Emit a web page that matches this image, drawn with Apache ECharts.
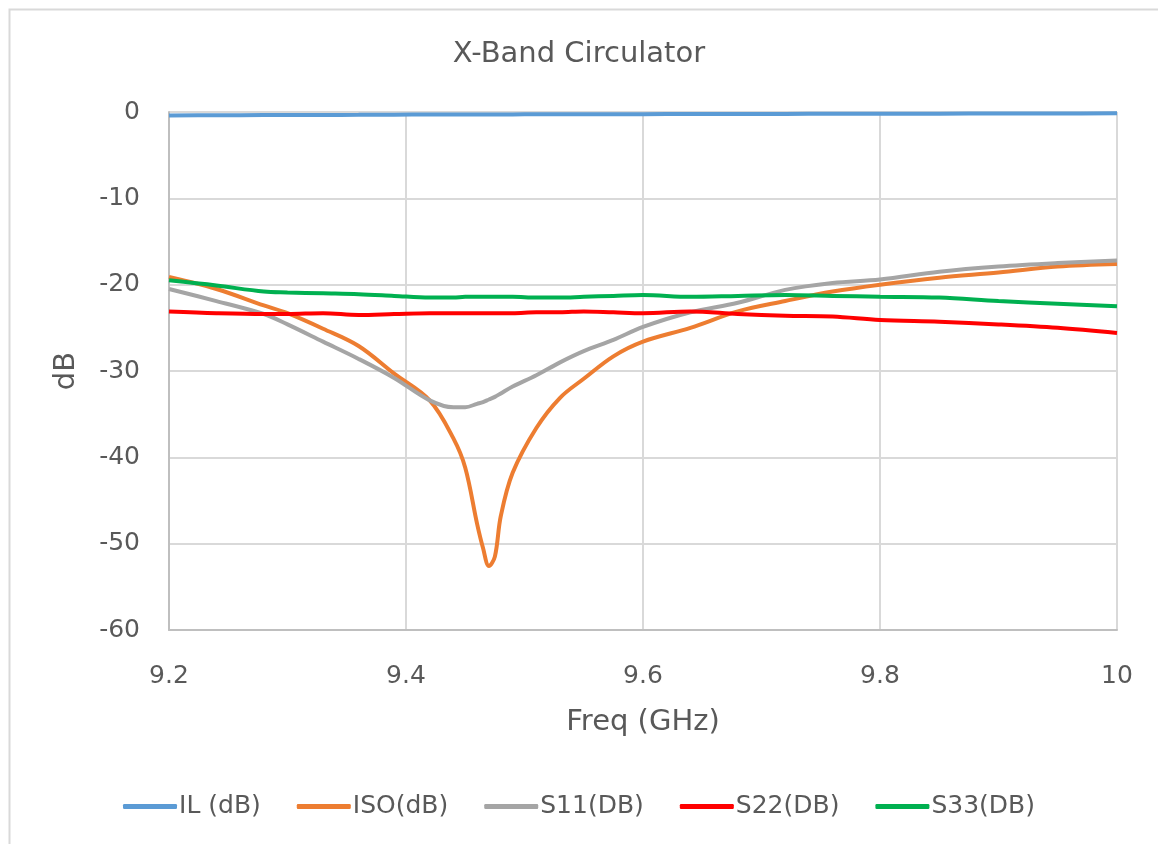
<!DOCTYPE html>
<html>
<head>
<meta charset="utf-8">
<script src="https://cdn.jsdelivr.net/npm/echarts@6/dist/echarts.min.js"></script>
<style>
  html, body { margin: 0; padding: 0; background: #fff; }
  #chart { width: 1158px; height: 844px; }
</style>
</head>
<body>
<div id="chart"></div>
<script>
// Frequency points (GHz), finer around the isolation notch
const freq = [9.20, 9.24, 9.28, 9.30, 9.33, 9.36, 9.39, 9.42, 9.44, 9.45, 9.46, 9.465, 9.47, 9.475, 9.48, 9.49, 9.51, 9.53, 9.55, 9.575, 9.60, 9.64, 9.68, 9.72, 9.76, 9.80, 9.85, 9.90, 9.95, 10.0];

const ilDb = [-0.40, -0.38, -0.36, -0.35, -0.34, -0.33, -0.31, -0.30, -0.30, -0.29, -0.29, -0.29, -0.29, -0.28, -0.28, -0.28, -0.27, -0.27, -0.26, -0.26, -0.25, -0.24, -0.23, -0.22, -0.21, -0.20, -0.19, -0.18, -0.17, -0.15];
const isoDb = [-19.1, -20.5, -22.4, -23.3, -25.1, -27.1, -30.3, -33.4, -37.8, -41.2, -47.7, -50.5, -52.6, -51.5, -46.8, -41.8, -36.6, -33.1, -30.9, -28.3, -26.6, -25.0, -23.1, -21.9, -20.8, -20.0, -19.2, -18.6, -17.9, -17.6];
const s11Db = [-20.5, -21.9, -23.4, -24.6, -26.6, -28.6, -30.8, -33.4, -34.2, -34.2, -33.8, -33.6, -33.3, -33.0, -32.6, -31.8, -30.5, -29.0, -27.7, -26.4, -24.9, -23.2, -22.1, -20.6, -19.8, -19.4, -18.5, -17.9, -17.5, -17.2];
const s22Db = [-23.1, -23.3, -23.4, -23.4, -23.3, -23.5, -23.4, -23.3, -23.3, -23.3, -23.3, -23.3, -23.3, -23.3, -23.3, -23.3, -23.2, -23.2, -23.1, -23.2, -23.3, -23.1, -23.4, -23.6, -23.7, -24.1, -24.3, -24.6, -25.0, -25.6];
const s33Db = [-19.5, -20.1, -20.8, -20.9, -21.0, -21.1, -21.3, -21.5, -21.5, -21.4, -21.4, -21.4, -21.4, -21.4, -21.4, -21.4, -21.5, -21.5, -21.4, -21.3, -21.2, -21.4, -21.3, -21.2, -21.3, -21.4, -21.5, -21.9, -22.2, -22.5];

const seriesNames = ['IL (dB)', 'ISO(dB)', 'S11(DB)', 'S22(DB)', 'S33(DB)'];
const seriesColors = ['#5b9bd5', '#ed7d31', '#a5a5a5', '#ff0000', '#00b050'];
const seriesValues = [ilDb, isoDb, s11Db, s22Db, s33Db];

const FONT = '"DejaVu Sans", sans-serif';
const TEXT = '#595959';

const chart = echarts.init(document.getElementById('chart'), null, { renderer: 'canvas' });

chart.setOption({
  backgroundColor: '#ffffff',
  animation: false,
  graphic: [{
    type: 'rect',
    shape: { x: 9.5, y: 9.5, width: 1160, height: 860 },
    style: { fill: 'none', stroke: '#d9d9d9', lineWidth: 2 },
    silent: true
  }],
  title: {
    text: 'X-Band Circulator',
    left: 'center',
    top: 35,
    textStyle: { fontFamily: FONT, fontSize: 29, fontWeight: 'normal', color: TEXT }
  },
  legend: {
    bottom: 20,
    left: 'center',
    itemWidth: 54,
    itemHeight: 5,
    itemGap: 36,
    icon: 'roundRect',
    data: seriesNames,
    textStyle: { fontFamily: FONT, fontSize: 25, color: TEXT, padding: [0, 0, 0, -3] }
  },
  grid: { left: 169, right: 41, top: 112, bottom: 214, containLabel: false },
  xAxis: {
    type: 'value',
    min: 9.2,
    max: 10,
    interval: 0.2,
    name: 'Freq (GHz)',
    nameLocation: 'middle',
    nameGap: 78,
    nameTextStyle: { fontFamily: FONT, fontSize: 29, color: TEXT },
    axisLine: { show: true, onZero: false, lineStyle: { color: '#bfbfbf', width: 2 } },
    axisTick: { show: false },
    axisLabel: {
      fontFamily: FONT, fontSize: 25, color: TEXT, margin: 34,
      formatter: v => (Math.round(v * 10) / 10).toString()
    },
    splitLine: { show: true, lineStyle: { color: '#d9d9d9', width: 2 } }
  },
  yAxis: {
    type: 'value',
    min: -60,
    max: 0,
    interval: 10,
    name: 'dB',
    nameLocation: 'middle',
    nameGap: 88,
    nameTextStyle: { fontFamily: FONT, fontSize: 29, color: TEXT },
    axisLine: { show: true, lineStyle: { color: '#bfbfbf', width: 2 } },
    axisTick: { show: false },
    axisLabel: { fontFamily: FONT, fontSize: 25, color: TEXT, margin: 29 },
    splitLine: { show: true, lineStyle: { color: '#d9d9d9', width: 2 } }
  },
  series: seriesNames.map((name, i) => ({
    name,
    type: 'line',
    smooth: 0.35,
    showSymbol: false,
    symbol: 'none',
    color: seriesColors[i],
    lineStyle: { width: 4, color: seriesColors[i] },
    data: freq.map((f, k) => [f, seriesValues[i][k]])
  }))
});
</script>
</body>
</html>
